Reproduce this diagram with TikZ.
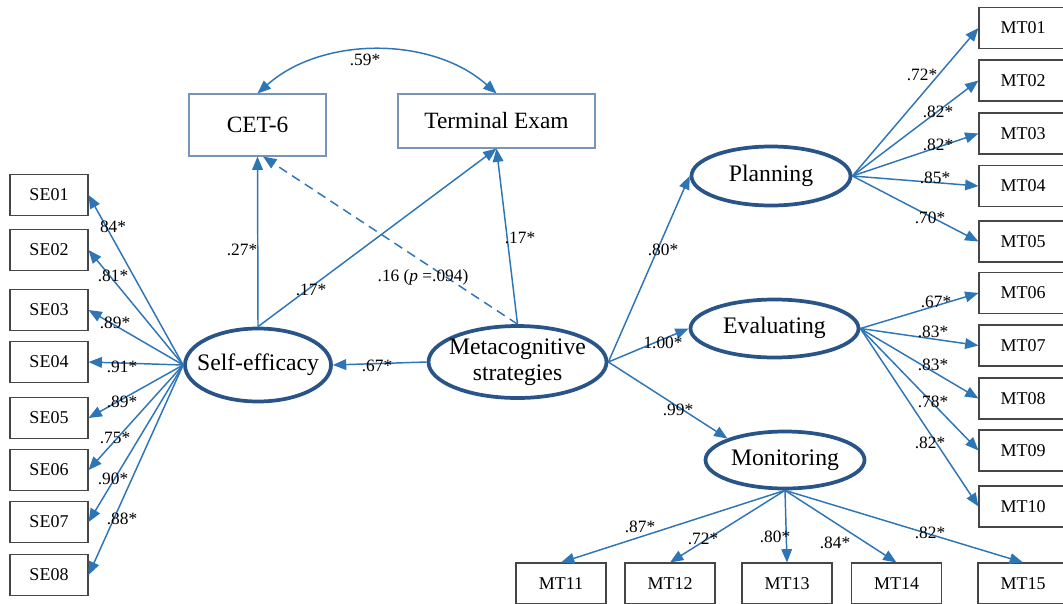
\documentclass[tikz,border=0pt]{standalone}
\usepackage{fontspec}
\setmainfont{Liberation Serif}
\usetikzlibrary{positioning,arrows.meta,shapes.geometric}

\definecolor{pathblue}{RGB}{46,117,182}
\definecolor{latentblue}{RGB}{40,84,135}
\definecolor{boxgray}{RGB}{70,70,70}
\definecolor{examblue}{RGB}{120,148,185}

% text of a latent node, kept out of the ellipse's width
\newcommand{\lvtext}[1]{\makebox[0pt][c]{\begin{tabular}{@{}c@{}}#1\end{tabular}}}

\tikzset{
  item/.style={draw=boxgray, line width=0.8pt, minimum width=58.5pt, minimum height=30.75pt,
    inner sep=0pt, font=\fontsize{13.5}{15}\selectfont},
  score/.style={draw=examblue, line width=0.8pt, inner sep=0pt, font=\fontsize{17.5}{20}\selectfont},
  latent/.style={ellipse, draw=latentblue, line width=2.8pt, inner sep=0pt,
    font=\fontsize{17.75}{20}\selectfont},
  link/.style={draw=pathblue, line width=1.1pt, -{Triangle[length=10pt,width=8pt]}},
  coef/.style={font=\fontsize{13}{14}\selectfont, inner sep=0pt},
}

\begin{document}
\begin{tikzpicture}[x=0.75pt, y=-0.75pt]
  \useasboundingbox (0,0) rectangle (1063,603);
  % latent variables
  \node[latent, minimum width=109.5pt, minimum height=54.75pt] (self) at (258,365) {\lvtext{Self-efficacy}};
  \node[latent, minimum width=133.5pt, minimum height=54pt, inner ysep=-1.5pt] (meta) at (517.5,362) {\lvtext{Metacognitive\\strategies}};
  \node[latent, minimum width=119.25pt, minimum height=44.25pt] (plan) at (771,176) {\lvtext{Planning}};
  \node[latent, minimum width=126pt, minimum height=43.5pt] (eval) at (774.5,328.5) {\lvtext{Evaluating}};
  \node[latent, minimum width=119.25pt, minimum height=42.75pt] (mon) at (785,460) {\lvtext{Monitoring}};
  % outcomes
  \node[score, minimum width=102.75pt, minimum height=46.5pt] (cet) at (257.5,125) {CET-6};
  \node[score, minimum width=147.75pt, minimum height=40.5pt] (term) at (496.5,121) {Terminal Exam};

  % indicators
  \foreach \i/\y in {01/195,02/250,03/310,04/362,05/418,06/470,07/522,08/575}
    \node[item] (SE\i) at (49,\y) {SE\i};
  \foreach \i/\y in {01/28,02/80.5,03/133.5,04/186,05/241.5,06/293,07/345.5,08/398.5,09/450.5,10/506.5}
    \node[item, minimum width=66pt] (MT\i) at (1023,\y) {MT\i};
  \foreach \i/\x in {11/561,12/670,13/787,14/896.5,15/1023}
    \node[item, minimum width=67.5pt] (MT\i) at (\x,583.5) {MT\i};

  % loadings
  \foreach \i/\c/\x/\y in {01/84*/113/227, 02/.81*/113/276, 03/.89*/115/323, 04/.91*/122/367,
      05/.89*/122/402, 06/.75*/115/438, 07/.90*/113/479, 08/.88*/122/519} {
    \draw[link] (self.west) -- (SE\i.east);
    \node[coef] (c-se\i) at (\x,\y) {\c};
  }
  \foreach \i/\c/\x/\y in {01/.72*/922/75, 02/.82*/938/112, 03/.82*/938/145, 04/.85*/935/178, 05/.70*/930/218} {
    \draw[link] (plan.east) -- (MT\i.west);
    \node[coef] (c-mt\i) at (\x,\y) {\c};
  }
  \foreach \i/\c/\x/\y in {06/.67*/936/302, 07/.83*/933/332, 08/.83*/933/365, 09/.78*/933/402, 10/.82*/930/443} {
    \draw[link] (eval.east) -- (MT\i.west);
    \node[coef] (c-mt\i) at (\x,\y) {\c};
  }
  \foreach \i/\c/\x/\y in {11/.87*/640/527, 12/.72*/703/539, 13/.80*/775/537, 14/.84*/835/543, 15/.82*/930/533} {
    \draw[link] (mon.south) -- (MT\i.north);
    \node[coef] (c-mt\i) at (\x,\y) {\c};
  }

  % structural paths
  \draw[link] (meta.west) -- (self.east);
  \node[coef] (c-ms) at (377,366) {.67*};
  \draw[link] (self.north) -- (cet.south);
  \node[coef] (c-sc) at (242,250) {.27*};
  \draw[link] (self.north) -- (term.south);
  \node[coef] (c-st) at (311,290) {.17*};
  \draw[link] (meta.north) -- (term.south);
  \node[coef] (c-mt) at (520,238) {.17*};
  \draw[link, dash pattern=on 7pt off 4.5pt] (meta.north) -- (cet.-80);
  \node[coef] (c-mc) at (423,277) {.16 (\textit{p} =.094)};
  \draw[link] (meta.east) -- (plan.west);
  \node[coef] (c-mp) at (663,250) {.80*};
  \draw[link] (meta.east) -- (eval.west);
  \node[coef] (c-me) at (663,343) {1.00*};
  \draw[link] (meta.east) -- (mon.north west);
  \node[coef] (c-mm) at (678,410) {.99*};

  % covariance
  \draw[link, {Triangle[length=10pt,width=8pt]}-{Triangle[length=10pt,width=8pt]}]
    (cet.north) .. controls (322,36) and (432,36) .. (term.north);
  \node[coef] (c-ct) at (365,60) {.59*};
\end{tikzpicture}
\end{document}
